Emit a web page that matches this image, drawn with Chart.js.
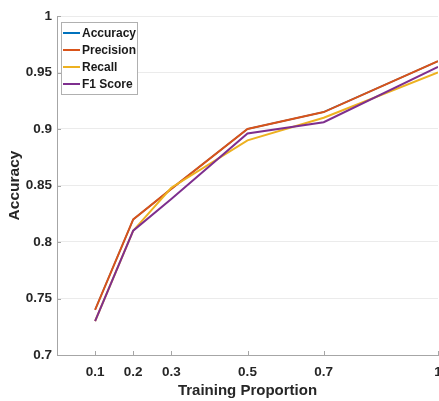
<!DOCTYPE html>
<html>
<head>
<meta charset="utf-8">
<script src="https://cdn.jsdelivr.net/npm/chart.js@4.4.0/dist/chart.umd.min.js"></script>
<style>
  html, body { margin: 0; padding: 0; background: #fff; }
  #wrap { width: 439px; height: 401px; }
</style>
</head>
<body>
<div id="wrap"><canvas id="metricsChart" width="439" height="401"></canvas></div>
<script>
const proportions = [0.1, 0.2, 0.3, 0.5, 0.7, 1];
const accuracy  = [0.74, 0.82, 0.847, 0.90, 0.915, 0.96];
const precision = [0.74, 0.82, 0.847, 0.90, 0.915, 0.96];
const recall    = [0.73, 0.81, 0.848, 0.89, 0.91, 0.95];
const f1Score   = [0.73, 0.81, 0.838, 0.896, 0.906, 0.955];
const yTicks = [0.7, 0.75, 0.8, 0.85, 0.9, 0.95, 1];

const seriesNames = ['Accuracy', 'Precision', 'Recall', 'F1 Score'];
const seriesValues = [accuracy, precision, recall, f1Score];
const colors = ['#0072BD', '#D95319', '#EDB120', '#7E2F8E'];

const font = "'Liberation Sans', Arial, sans-serif";

const datasets = seriesNames.map((name, i) => ({
    label: name,
    data: proportions.map((p, j) => ({ x: p, y: seriesValues[i][j] })),
    borderColor: colors[i],
    backgroundColor: colors[i],
    borderWidth: i === 0 ? 1.5 : 2,
    pointRadius: 0,
    tension: 0,
    order: seriesNames.length - i
}));

// small inward tick marks, matlab style
const tickMarks = {
    id: 'tickMarks',
    afterDraw(chart) {
        const ctx = chart.ctx;
        const { left, bottom } = chart.chartArea;
        ctx.save();
        ctx.strokeStyle = '#a6a6a6';
        ctx.lineWidth = 1;
        proportions.forEach(p => {
            const x = Math.round(chart.scales.x.getPixelForValue(p)) + 0.5;
            ctx.beginPath();
            ctx.moveTo(x, bottom);
            ctx.lineTo(x, bottom - 4);
            ctx.stroke();
        });
        yTicks.forEach(v => {
            const y = Math.round(chart.scales.y.getPixelForValue(v)) + 0.5;
            ctx.beginPath();
            ctx.moveTo(left, y);
            ctx.lineTo(left + 4, y);
            ctx.stroke();
        });
        ctx.restore();
    }
};

// boxed legend in the upper-left corner of the plot
const boxLegend = {
    id: 'boxLegend',
    afterDraw(chart) {
        const ctx = chart.ctx;
        const x0 = 61, y0 = 22, w = 76, h = 72, row = 17;
        ctx.save();
        ctx.fillStyle = '#fff';
        ctx.fillRect(x0, y0, w, h);
        ctx.strokeStyle = '#b0b0b0';
        ctx.lineWidth = 1;
        ctx.strokeRect(x0 + 0.5, y0 + 0.5, w, h);
        ctx.font = 'bold 12px ' + font;
        ctx.textBaseline = 'middle';
        chart.data.datasets.forEach((ds, i) => {
            const y = y0 + 11 + i * row;
            ctx.strokeStyle = ds.borderColor;
            ctx.lineWidth = 2;
            ctx.beginPath();
            ctx.moveTo(x0 + 2, y);
            ctx.lineTo(x0 + 19, y);
            ctx.stroke();
            ctx.fillStyle = '#1a1a1a';
            ctx.fillText(ds.label, x0 + 21, y + 0.5);
        });
        ctx.restore();
    }
};

new Chart(document.getElementById('metricsChart'), {
    type: 'line',
    data: { datasets: datasets },
    plugins: [tickMarks, boxLegend],
    options: {
        responsive: false,
        animation: false,
        layout: { padding: { top: 16, right: 1, left: 0, bottom: 0 } },
        plugins: {
            legend: { display: false },
            tooltip: { enabled: false }
        },
        scales: {
            x: {
                type: 'linear',
                min: 0,
                max: 1,
                afterBuildTicks: scale => {
                    scale.ticks = proportions.map(v => ({ value: v }));
                },
                afterFit: scale => {
                    scale.height = 46;
                    scale.paddingLeft = 0;
                    scale.paddingRight = 0;
                },
                ticks: {
                    maxRotation: 0,
                    padding: 9,
                    color: '#262626',
                    font: { family: font, size: 13.5, weight: 'bold' },
                    callback: v => String(v)
                },
                grid: { display: false, drawTicks: false },
                border: { color: '#a6a6a6', width: 1 },
                title: {
                    display: true,
                    text: 'Training Proportion',
                    color: '#262626',
                    font: { family: font, size: 15, weight: 'bold' },
                    padding: { top: 0, bottom: 1 }
                }
            },
            y: {
                min: 0.7,
                max: 1,
                afterBuildTicks: scale => {
                    scale.ticks = yTicks.map(v => ({ value: v }));
                },
                afterFit: scale => {
                    scale.width = 57;
                    scale.paddingTop = 0;
                    scale.paddingBottom = 0;
                },
                ticks: {
                    padding: 5,
                    color: '#262626',
                    font: { family: font, size: 13.5, weight: 'bold' },
                    callback: v => String(v)
                },
                grid: { color: '#ebebeb', drawTicks: false },
                border: { color: '#a6a6a6', width: 1 },
                title: {
                    display: true,
                    text: 'Accuracy',
                    color: '#262626',
                    font: { family: font, size: 15.5, weight: 'bold' },
                    padding: { top: 5, bottom: 0 }
                }
            }
        }
    }
});
</script>
</body>
</html>
